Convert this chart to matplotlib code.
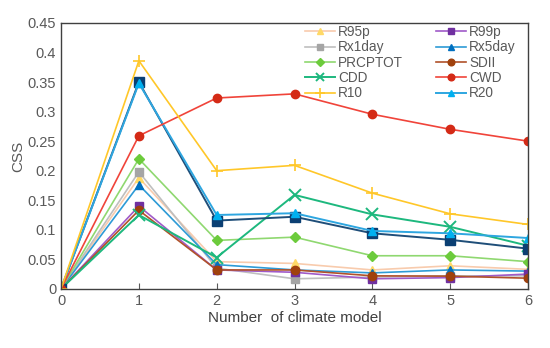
import numpy as np
import matplotlib
matplotlib.use('Agg')
import matplotlib.pyplot as plt

plt.rcParams['font.family'] = ['Liberation Sans', 'DejaVu Sans']

x = [0, 1, 2, 3, 4, 5, 6]

# values
r95p    = [0, 0.188, 0.046, 0.043, 0.032, 0.039, 0.033]
r99p    = [0, 0.140, 0.032, 0.028, 0.017, 0.019, 0.025]
rx1day  = [0, 0.198, 0.035, 0.017, 0.020, 0.022, 0.022]
rx5day  = [0, 0.176, 0.041, 0.032, 0.027, 0.032, 0.030]
prcptot = [0, 0.220, 0.082, 0.0875, 0.056, 0.056, 0.046]
sdii    = [0, 0.133, 0.032, 0.032, 0.022, 0.0215, 0.018]
cdd     = [0, 0.125, 0.053, 0.159, 0.126, 0.105, 0.073]
cwd     = [0, 0.259, 0.323, 0.330, 0.2955, 0.270, 0.250]
r10     = [0, 0.386, 0.200, 0.209, 0.162, 0.127, 0.109]
r20     = [0, 0.348, 0.125, 0.128, 0.098, 0.094, 0.086]
r25     = [0, 0.350, 0.1155, 0.122, 0.094, 0.083, 0.068]  # drawn but not in legend

fig = plt.figure(figsize=(5.5, 3.48), dpi=100)
ax = fig.add_axes([0.111, 0.170, 0.849, 0.764])

ms = 6
h = {}
h['R95p'], = ax.plot(x, r95p, color='#F8CBAD', marker='^', ms=ms, mfc='#FFD966', mec='#FFD966', lw=1.2)
h['Rx1day'], = ax.plot(x, rx1day, color='#BFBFBF', marker='s', ms=ms, mfc='#A5A5A5', mec='#A5A5A5', lw=1.2)
h['Rx5day'], = ax.plot(x, rx5day, color='#2E9BD6', marker='^', ms=ms, mfc='#0070C0', mec='#0070C0', lw=1.2)
h['R99p'], = ax.plot(x, r99p, color='#A05AC8', marker='s', ms=ms, mfc='#7030A0', mec='#7030A0', lw=1.2)
h['SDII'], = ax.plot(x, sdii, color='#B0522A', marker='o', ms=ms, mfc='#A0410D', mec='#A0410D', lw=1.2)
h['PRCPTOT'], = ax.plot(x, prcptot, color='#8FD870', marker='D', ms=5, mfc='#6CCB3C', mec='#6CCB3C', lw=1.2)
h['CDD'], = ax.plot(x, cdd, color='#1DB87E', marker='x', ms=8, mew=1.4, lw=1.4)
ax.plot(x, r25, color='#1F4E79', marker='s', ms=7, mfc='#0B3F73', mec='#0B3F73', lw=1.4, label='_nolegend_')
h['R20'], = ax.plot(x, r20, color='#2EA6E0', marker='^', ms=ms, mfc='#00B0F0', mec='#00B0F0', lw=1.4)
h['CWD'], = ax.plot(x, cwd, color='#F0443A', marker='o', ms=ms, mfc='#D42A16', mec='#D42A16', lw=1.2)
h['R10'], = ax.plot(x, r10, color='#FFC729', marker='+', ms=9, mew=1.2, lw=1.2)

order = ['R95p', 'Rx1day', 'PRCPTOT', 'CDD', 'R10', 'R99p', 'Rx5day', 'SDII', 'CWD', 'R20']
fig.legend([h[k] for k in order], order, ncol=2, loc='upper left',
           bbox_to_anchor=(305 / 550, 1 - 25 / 348), frameon=False, fontsize=9.8,
           borderpad=0, borderaxespad=0, markerscale=0.8,
           handlelength=2.2, handletextpad=0.25, columnspacing=2.4,
           labelspacing=0.1, labelcolor='#595959')

ax.set_xlim(0, 6)
ax.set_ylim(0, 0.45)
ax.set_xticks(x)
ax.set_yticks(np.arange(0, 0.451, 0.05))
ax.set_yticklabels(['0', '0.05', '0.1', '0.15', '0.2', '0.25', '0.3', '0.35', '0.4', '0.45'])
ax.tick_params(axis='both', labelsize=10.5, colors='#595959', direction='in', length=4)
ax.tick_params(axis='x', pad=4)
ax.tick_params(axis='y', length=0)
for s in ax.spines.values():
    s.set_color('#404040')
    s.set_linewidth(1.0)

ax.set_xlabel('Number  of climate model', fontsize=11, color='#404040', labelpad=2)
ax.set_ylabel('CSS', fontsize=11, color='#595959', labelpad=2)

fig.savefig('out.png', dpi=100)
